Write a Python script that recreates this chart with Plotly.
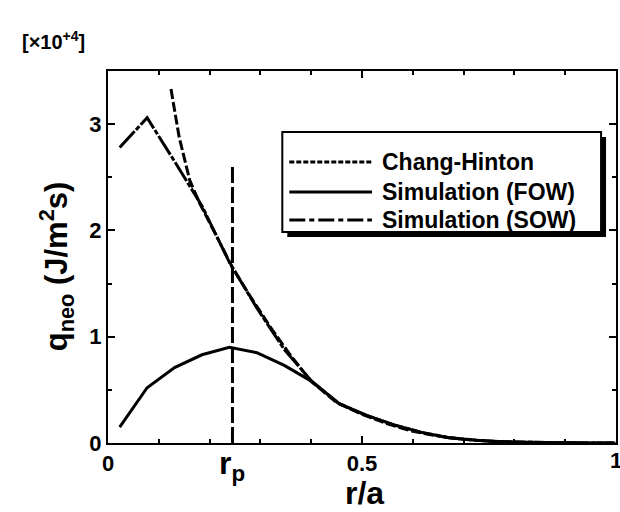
import plotly.graph_objects as go

# ---- data (units of 1e4 J/m^2 s) ----
ch_x = [0.124, 0.14, 0.161, 0.18, 0.21, 0.245, 0.28, 0.324, 0.36, 0.40, 0.45, 0.50, 0.55, 0.60, 0.65, 0.70, 0.75, 0.80, 0.85, 0.90, 1.0]
ch_y = [3.33, 2.88, 2.47, 2.26, 1.98, 1.65, 1.38, 1.06, 0.82, 0.58, 0.38, 0.27, 0.18, 0.11, 0.065, 0.035, 0.018, 0.008, 0.003, 0.001, 0.0]

sim_x = [0.023, 0.077, 0.131, 0.185, 0.239, 0.293, 0.347, 0.401, 0.455, 0.509, 0.563, 0.617, 0.671, 0.725, 0.779, 0.833, 0.887, 0.941, 0.995]
fow_y = [0.15, 0.52, 0.71, 0.83, 0.90, 0.85, 0.73, 0.58, 0.37, 0.26, 0.17, 0.10, 0.05, 0.025, 0.01, 0.005, 0.002, 0.0, 0.0]
sow_y = [2.78, 3.06, 2.65, 2.23, 1.70, 1.27, 0.88, 0.58, 0.37, 0.26, 0.17, 0.10, 0.05, 0.025, 0.01, 0.005, 0.002, 0.0, 0.0]

rp_x = [0.245, 0.245]
rp_y = [0.0, 2.63]

legend_names = ["Chang-Hinton", "Simulation (FOW)", "Simulation (SOW)"]
x_ticks = [0, 0.5]
x_ticklabels = ["0", "0.5"]
y_ticks = [0, 1, 2, 3]

FONT = "Liberation Sans, Arial, sans-serif"
CH_DASH = "10px,3px"
SOW_DASH = "22px,2px,5px,2px"
LW = 3

fig = go.Figure()
fig.add_trace(go.Scatter(x=sim_x, y=fow_y, mode="lines", line=dict(color="black", width=LW), showlegend=False))
fig.add_trace(go.Scatter(x=sim_x, y=sow_y, mode="lines", line=dict(color="black", width=LW, dash=SOW_DASH), showlegend=False))
fig.add_trace(go.Scatter(x=ch_x, y=ch_y, mode="lines", line=dict(color="black", width=LW, dash=CH_DASH), showlegend=False))
fig.add_trace(go.Scatter(x=rp_x, y=rp_y, mode="lines", line=dict(color="black", width=3, dash="16px,4px"), showlegend=False))

# plot area in pixels: x 108..618, y 71..443
L, R, T, B = 108, 618, 71, 443
W, H = R - L, B - T
def px(x):
    return (x - L) / W
def py(y):
    return (B - y) / H

shapes = []
# legend shadow + box
shapes.append(dict(type="rect", xref="paper", yref="paper", x0=px(288), x1=px(608), y0=py(237), y1=py(137),
                   line=dict(width=0), fillcolor="black", layer="above"))
shapes.append(dict(type="rect", xref="paper", yref="paper", x0=px(283), x1=px(603), y0=py(232), y1=py(132),
                   line=dict(width=2, color="black"), fillcolor="white", layer="above"))
ys = [162, 192, 220]
legend_dashes = ["5px,2px", "solid", "16px,4px,5px,4px"]
annotations = []
for name, yy, d in zip(legend_names, ys, legend_dashes):
    shapes.append(dict(type="line", xref="paper", yref="paper", x0=px(290), x1=px(373), y0=py(yy), y1=py(yy),
                       line=dict(color="black", width=3, dash=d), layer="above"))
    annotations.append(dict(xref="paper", yref="paper", x=px(381), y=py(yy), text="<b>" + name + "</b>", showarrow=False,
                            xanchor="left", yanchor="middle", font=dict(family=FONT, size=23, color="black")))

annotations += [
    dict(xref="paper", yref="paper", x=px(20), y=py(40), text="<b>[×10<sup>+4</sup>]</b>", showarrow=False,
         xanchor="left", yanchor="middle", font=dict(family=FONT, size=20, color="black")),
    dict(xref="x", yref="paper", x=0.245, y=py(465), text="<b>r<sub>p</sub></b>", showarrow=False,
         xanchor="center", yanchor="middle", font=dict(family=FONT, size=32, color="black")),
    dict(xref="paper", yref="paper", x=px(366), y=py(493), text="<b>r/a</b>", showarrow=False,
         xanchor="center", yanchor="middle", font=dict(family=FONT, size=32, color="black")),
    dict(xref="paper", yref="paper", x=px(56), y=py(266), text="<b>q<sub>neo</sub> (J/m<sup>2</sup>s)</b>", showarrow=False,
         textangle=-90, xanchor="center", yanchor="middle", font=dict(family=FONT, size=31, color="black")),
    dict(xref="x", yref="paper", x=1.0, y=py(446), text="<b>1</b>", showarrow=False,
         xanchor="center", yanchor="top", font=dict(family=FONT, size=22, color="black")),
]

axis_common = dict(showgrid=False, zeroline=False, showline=True, linecolor="black", linewidth=2,
                   mirror="ticks", ticks="inside", tickcolor="black", tickwidth=2, ticklen=7,
                   tickfont=dict(family=FONT, size=22, color="black", weight="bold"))

fig.update_layout(
    width=620, height=512,
    margin=dict(l=L, r=620 - R, t=T, b=512 - B),
    paper_bgcolor="white", plot_bgcolor="white",
    xaxis=dict(range=[0, 1], tickvals=x_ticks, ticktext=x_ticklabels,
               minor=dict(dtick=0.1, ticks="inside", ticklen=4, tickwidth=2, tickcolor="black"),
               **axis_common),
    yaxis=dict(range=[0, 3.5], tickvals=y_ticks,
               minor=dict(dtick=0.5, ticks="inside", ticklen=4, tickwidth=2, tickcolor="black"),
               **axis_common),
    shapes=shapes, annotations=annotations, showlegend=False,
)

fig.write_html("out.html")
